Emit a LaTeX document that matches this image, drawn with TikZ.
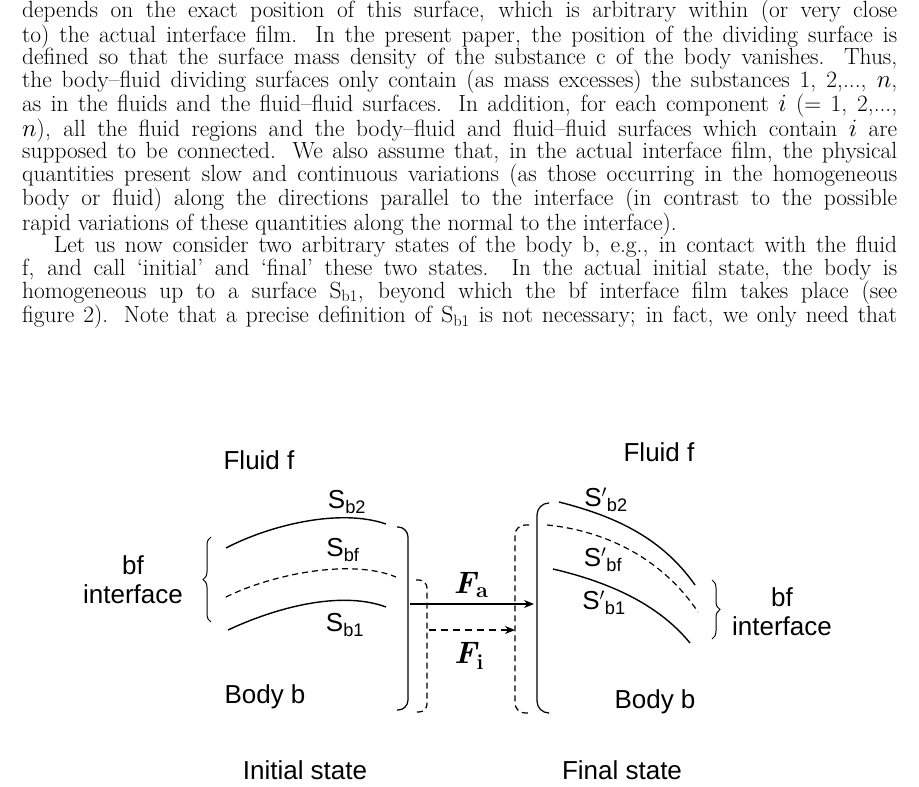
\documentclass[tikz,border=0pt]{standalone}
\usepackage{fontspec}
\newfontfamily\arial{Liberation Sans}
\usetikzlibrary{decorations.pathreplacing,arrows.meta}
\begin{document}
\begin{tikzpicture}[x=1pt,y=-1pt,
  lbl/.style={font=\arial\fontsize{26}{29}\selectfont, inner sep=0pt},
  flbl/.style={font=\bfseries\itshape\fontsize{31}{31}\selectfont, inner sep=0pt},
  curve/.style={line width=1.4pt},
  dcurve/.style={line width=1.2pt, dash pattern=on 6pt off 4pt},
  brk/.style={line width=1.2pt, rounded corners=10pt}]
\useasboundingbox (0,0) rectangle (919,787);
\node[anchor=north west, inner sep=0pt, text width=875pt, align=justify,
  font=\fontsize{23.4}{22.65}\selectfont] (para) at (22,0) {%
depends on the exact position of this surface, which is arbitrary within (or very close\linebreak
to) the actual interface film. In the present paper, the position of the dividing surface is\linebreak
defined so that the surface mass density of the substance c of the body vanishes. Thus,\linebreak
the body--fluid dividing surfaces only contain (as mass excesses) the substances 1, 2,..., $n$,\linebreak
as in the fluids and the fluid--fluid surfaces. In addition, for each component $i$ (= 1, 2,...,\linebreak
$n$), all the fluid regions and the body--fluid and fluid--fluid surfaces which contain $i$ are\linebreak
supposed to be connected. We also assume that, in the actual interface film, the physical\linebreak
quantities present slow and continuous variations (as those occurring in the homogeneous\linebreak
body or fluid) along the directions parallel to the interface (in contrast to the possible\linebreak
rapid variations of these quantities along the normal to the interface).\par
\hspace*{1.35em}Let us now consider two arbitrary states of the body b, e.g., in contact with the fluid\linebreak
f, and call `initial' and `final' these two states. In the actual initial state, the body is\linebreak
homogeneous up to a surface S$_{\rm b1}$, beyond which the bf interface film takes place (see\linebreak
figure 2). Note that a precise definition of S$_{\rm b1}$ is not necessary; in fact, we only need that\linebreak};
% left labels
\node[lbl] (ff1) at (259,460) {Fluid f};
\node[lbl] (sb2) at (347,502) {S\textsubscript{b2}};
\node[lbl] (sbf) at (343,550) {S\textsubscript{bf}};
\node[lbl] (sb1) at (345,625) {S\textsubscript{b1}};
\node[lbl, align=center] (bfl) at (133,580) {bf\\[0pt]interface};
\node[lbl] (bb1) at (265,697) {Body b};
\node[lbl] (is) at (305,770) {Initial state};
% left curves
\coordinate (a1) at (226,548); \coordinate (a2) at (386,524);
\draw[curve] (a1) .. controls (270,525) and (340,508) .. (a2);
\coordinate (c1) at (226,597); \coordinate (c2) at (396,577);
\draw[dcurve] (c1) .. controls (270,575) and (350,558) .. (c2);
\coordinate (d1) at (228,630); \coordinate (d2) at (386,607);
\draw[curve] (d1) .. controls (275,608) and (340,590) .. (d2);
\coordinate (lb1) at (211,622); \coordinate (lb2) at (211,537);
\draw[line width=1pt, decorate, decoration={brace, amplitude=8pt}] (lb1) -- (lb2);
% left bracket
\coordinate (p1) at (397,527); \coordinate (p2) at (397,710);
\draw[brk] (p1) -- (408,527) -- (408,710) -- (p2);
\coordinate (q1) at (416,580); \coordinate (q2) at (416,712);
\draw[brk, dash pattern=on 6pt off 4pt, rounded corners=8pt] (q1) -- (427,580) -- (427,712) -- (q2);
% arrows
\coordinate (fa1) at (410,604); \coordinate (fa2) at (534,604);
\draw[line width=1.8pt, -{Stealth[length=10pt,width=8pt]}] (fa1) -- (fa2);
\node[flbl] (fal) at (471,585) {F\textsubscript{\upshape a}};
\coordinate (fi1) at (429,630); \coordinate (fi2) at (515,630);
\draw[line width=1.8pt, dash pattern=on 7pt off 5pt, -{Stealth[length=10pt,width=8pt]}] (fi1) -- (fi2);
\node[flbl] (fil) at (469,656) {F\textsubscript{\upshape i}};
% right brackets
\coordinate (r1) at (529,525); \coordinate (r2) at (529,713);
\draw[brk, dash pattern=on 6pt off 4pt] (r1) -- (515,525) -- (515,713) -- (r2);
\coordinate (s1) at (548,503); \coordinate (s2) at (548,713);
\draw[brk, rounded corners=12pt] (s1) -- (537,503) -- (537,713) -- (s2);
% right curves
\coordinate (e1) at (559,502); \coordinate (e2) at (695,585);
\draw[curve] (e1) .. controls (610,515) and (660,535) .. (e2);
\coordinate (g1) at (547,525); \coordinate (g2) at (698,612);
\draw[dcurve] (g1) .. controls (600,530) and (660,555) .. (g2);
\coordinate (h1) at (553,569); \coordinate (h2) at (690,643);
\draw[curve] (h1) .. controls (600,580) and (655,600) .. (h2);
\coordinate (rb1) at (712,580); \coordinate (rb2) at (712,639);
\draw[line width=1pt, decorate, decoration={brace, amplitude=8pt}] (rb1) -- (rb2);
\node[lbl] (ff2) at (659,452) {Fluid f};
\node[lbl] (sp2) at (606,500) {S$'$\textsubscript{b2}};
\node[lbl] (spf) at (603,560) {S$'$\textsubscript{bf}};
\node[lbl] (sp1) at (604,603) {S$'$\textsubscript{b1}};
\node[lbl, align=center] (bfr) at (782,612) {bf\\[0pt]interface};
\node[lbl] (bb2) at (655,702) {Body b};
\node[lbl] (fs) at (622,770) {Final state};
\end{tikzpicture}
\end{document}
